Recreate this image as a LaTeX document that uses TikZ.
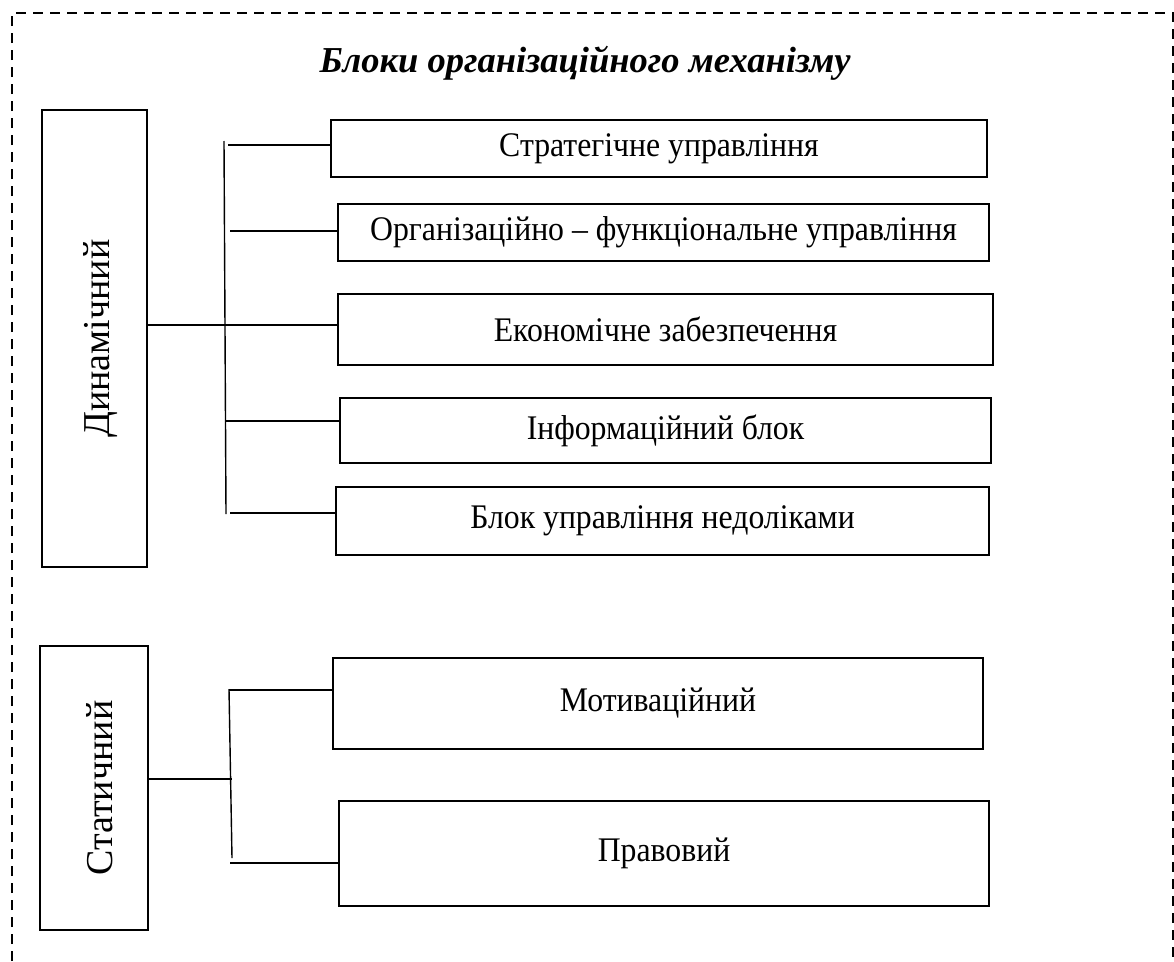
\documentclass[tikz,border=0pt]{standalone}
\usepackage{fontspec}
\setmainfont{Liberation Serif}
\newfontfamily\vuzkyj[FakeStretch=0.92]{Liberation Serif}
\usepackage{tikz}
\usetikzlibrary{positioning,calc}

\begin{document}
\begin{tikzpicture}[x=1pt,y=-1pt,
  blok/.style={draw,line width=2.8pt,rectangle,inner sep=0pt,
               font=\vuzkyj\fontsize{34.5}{40}\selectfont},
  vblok/.style={blok,font=\fontsize{38}{44}\selectfont},
  lin/.style={line width=1.4pt},
  ramka/.style={line width=1.6pt,dash pattern=on 10pt off 7pt}]

  \useasboundingbox (0,0) rectangle (1174,961);

  % dashed frame (bottom edge is cut off)
  \draw[ramka] (12,961) -- (12,13) -- (1173,13) -- (1173,961);

  \node[font=\fontsize{36.5}{42}\selectfont\bfseries\itshape] (title) at (585,63)
    {Блоки організаційного механізму};

  % left blocks
  \node[vblok,minimum width=105,minimum height=457] (dyn) at (94.5,338.5)
    {\rotatebox{90}{\raisebox{-6pt}[\height][\depth]{Динамічний}}};
  \node[vblok,minimum width=108,minimum height=284] (stat) at (94,788)
    {\rotatebox{90}{\raisebox{-6pt}[\height][\depth]{Статичний}}};

  % right blocks
  \node[blok,minimum width=656,minimum height=57] (strat) at (659,148.5)
    {Стратегічне управління};
  \node[blok,minimum width=651,minimum height=57] (org) at (663.5,232.5)
    {Організаційно – функціональне управління};
  \node[blok,minimum width=655,minimum height=71] (econ) at (665.5,329.5)
    {Економічне забезпечення};
  \node[blok,minimum width=651,minimum height=65] (info) at (665.5,430.5)
    {Інформаційний блок};
  \node[blok,minimum width=653,minimum height=68] (nedol) at (662.5,521)
    {Блок управління недоліками};
  \node[blok,minimum width=650,minimum height=91] (motiv) at (658,703.5)
    {Мотиваційний};
  \node[blok,minimum width=650,minimum height=105] (prav) at (664,853.5)
    {Правовий};

  % bus of the dynamic block
  \coordinate (busT) at (224,141);
  \coordinate (busB) at (226,514);
  \coordinate (k1) at (228,145);
  \coordinate (k2) at (230,231);
  \coordinate (k3) at (147,325);
  \coordinate (k4) at (226,421);
  \coordinate (k5) at (230,513);
  \draw[lin] (busT) -- (busB);
  \draw[lin] (k1) -- (k1 -| strat.west);
  \draw[lin] (k2) -- (k2 -| org.west);
  \draw[lin] (dyn.east |- k3) -- (k3 -| econ.west);
  \draw[lin] (k4) -- (k4 -| info.west);
  \draw[lin] (k5) -- (k5 -| nedol.west);

  % bus of the static block
  \coordinate (sT) at (229,689);
  \coordinate (sB) at (232,858);
  \coordinate (m0) at (232,779);
  \coordinate (m1) at (229,690);
  \coordinate (m2) at (230,863);
  \draw[lin] (sT) -- (sB);
  \draw[lin] (stat.east |- m0) -- (m0);
  \draw[lin] (m1) -- (m1 -| motiv.west);
  \draw[lin] (m2) -- (m2 -| prav.west);
\end{tikzpicture}
\end{document}
